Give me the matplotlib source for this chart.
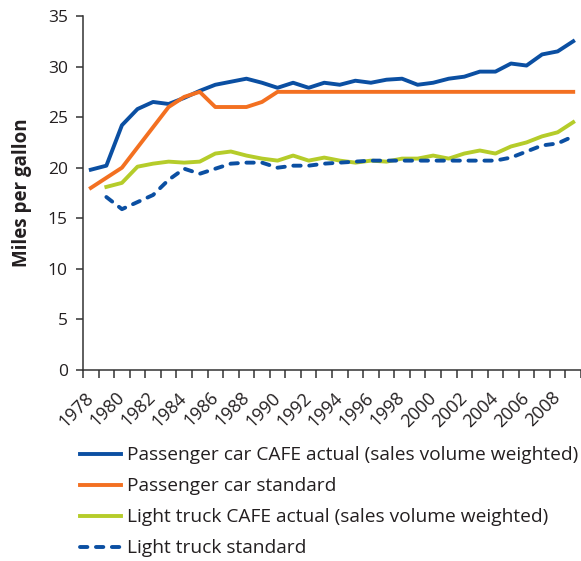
import numpy as np
import matplotlib
matplotlib.use("Agg")
import matplotlib.pyplot as plt

plt.rcParams['font.family'] = ['Open Sans', 'DejaVu Sans']

years = list(range(1978, 2010))

car_actual = [19.8, 20.2, 24.2, 25.8, 26.5, 26.3, 26.9, 27.6, 28.2, 28.5,
              28.8, 28.4, 27.9, 28.4, 27.9, 28.4, 28.2, 28.6, 28.4, 28.7,
              28.8, 28.2, 28.4, 28.8, 29.0, 29.5, 29.5, 30.3, 30.1, 31.2,
              31.5, 32.5]
car_standard = [18.0, 19.0, 20.0, 22.0, 24.0, 26.0, 27.0, 27.5, 26.0, 26.0,
                26.0, 26.5, 27.5, 27.5, 27.5, 27.5, 27.5, 27.5, 27.5, 27.5,
                27.5, 27.5, 27.5, 27.5, 27.5, 27.5, 27.5, 27.5, 27.5, 27.5,
                27.5, 27.5]
# light trucks start in 1979
truck_actual = [np.nan, 18.1, 18.5, 20.1, 20.4, 20.6, 20.5, 20.6, 21.4, 21.6,
                21.2, 20.9, 20.7, 21.2, 20.7, 21.0, 20.7, 20.5, 20.7, 20.6,
                20.9, 20.9, 21.2, 20.9, 21.4, 21.7, 21.4, 22.1, 22.5, 23.1,
                23.5, 24.5]
truck_standard = [np.nan, 17.1, 15.9, 16.6, 17.3, 18.8, 19.9, 19.4, 19.9, 20.4,
                  20.5, 20.5, 20.0, 20.2, 20.2, 20.4, 20.5, 20.6, 20.7, 20.7,
                  20.7, 20.7, 20.7, 20.7, 20.7, 20.7, 20.7, 21.0, 21.6, 22.2,
                  22.4, 23.1]

labels = ['Passenger car CAFE actual (sales volume weighted)',
          'Passenger car standard',
          'Light truck CAFE actual (sales volume weighted)',
          'Light truck standard']

blue = '#0b4fa2'
orange = '#f37021'
green = '#b5cc2a'
ink = '#231f20'

fig = plt.figure(figsize=(5.81, 5.61), dpi=100)
ax = fig.add_axes([0.1429, 0.3405, 0.8571, 0.631])

lw = 2.8
l1, = ax.plot(years, car_actual, color=blue, lw=lw, solid_joinstyle='round')
l2, = ax.plot(years, car_standard, color=orange, lw=lw, solid_joinstyle='round')
l3, = ax.plot(years, truck_actual, color=green, lw=lw, solid_joinstyle='round')
l4, = ax.plot(years, truck_standard, color=blue, lw=lw, dashes=(1.9, 2.2),
              dash_capstyle='round')

ax.set_xlim(1977.5, 2009.08)
ax.set_ylim(0, 35)
ax.set_yticks(range(0, 36, 5))

# category-style axis: ticks between years, labels on every other year
ax.set_xticks([y - 0.5 for y in years] + [2009.5], minor=True)
ax.set_xticks(years[::2])
ax.set_xticklabels([str(y) for y in years[::2]], rotation=45, ha='right',
                   va='center', rotation_mode='anchor')
ax.tick_params(axis='x', which='major', length=0, pad=18, labelsize=13,
               colors=ink)
ax.tick_params(axis='x', which='minor', length=5.5, width=1.1, color='#333333')
ax.tick_params(axis='y', length=5, width=1.1, pad=6, labelsize=12.5,
               colors=ink, color='#333333')

for s in ['top', 'right']:
    ax.spines[s].set_visible(False)
for s in ['left', 'bottom']:
    ax.spines[s].set_color('#333333')
    ax.spines[s].set_linewidth(1.1)

ax.set_ylabel('Miles per gallon', fontsize=13.5, fontweight='bold', color=ink,
              labelpad=11)

fig.legend([l1, l2, l3, l4], labels, loc='upper left',
           bbox_to_anchor=(0.125, 0.218), frameon=False, fontsize=13.8,
           handlelength=2.1, handletextpad=0.36, labelspacing=0.68,
           borderaxespad=0, labelcolor=ink)

fig.savefig('out.png', dpi=100)
